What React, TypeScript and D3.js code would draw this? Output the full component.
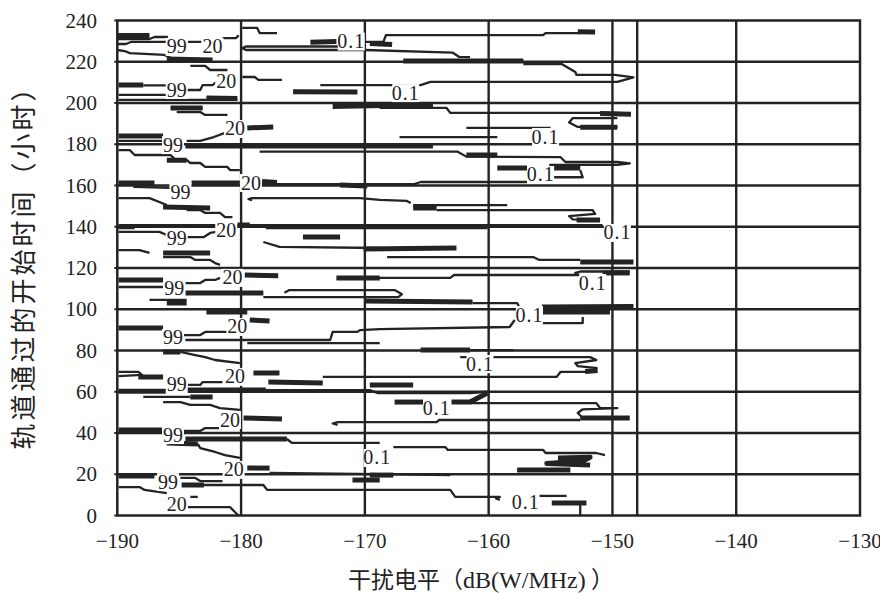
import React from "react";
import * as d3 from "d3";

// Axis ticks
const xTicks = [-190, -180, -170, -160, -150, -140, -130];
const yTicks = [0, 20, 40, 60, 80, 100, 120, 140, 160, 180, 200, 220, 240];
const extraGridX = [-148];

// Thin contour polylines [dB, hour]
const thinContours: number[][][] = [
  [[-190,231],[-187.4,231],[-187,232],[-185.9,232]],
  [[-190,228.6],[-189.3,228.6],[-188.9,229.6],[-186,229.6]],
  [[-184.3,229.6],[-183.2,229.6]],
  [[-181.5,231.5],[-180.4,231.5],[-180.2,232.9]],
  [[-179.9,236.4],[-178.7,236.4],[-178.5,233.9],[-177.1,233.9]],
  [[-172,227.4],[-179.6,227.4],[-179.9,226.6],[-179.6,225.7],[-170,225.7],[-162.9,224.4],[-162.4,222.4],[-161.5,222.2]],
  [[-170.1,229.6],[-168.5,229.6],[-168.3,232.9],[-155.6,232.9],[-155.4,233.9],[-152.6,233.9]],
  [[-190,225.7],[-189.4,225.2],[-189,224.2],[-186.2,223.3],[-185.7,221.9],[-183.2,221.2]],
  [[-184.1,218],[-182.9,218],[-182.5,216],[-181.1,216]],
  [[-157.2,218.9],[-154.1,218.9],[-153,215],[-152.9,213.6],[-149.8,213.6],[-148.3,212.4],[-149.6,210.2],[-164.7,210.2],[-165.5,208.7],[-173.6,208.7]],
  [[-187.9,208.5],[-185,208.5]],
  [[-184.4,206.3],[-183.3,206.3],[-183.1,208.7],[-182.3,208.7],[-182,210.2]],
  [[-189.9,203.9],[-185.5,203.9]],
  [[-189.9,201.5],[-180.3,201.5]],
  [[-179.9,212.6],[-178.9,212.6],[-178.6,211.2],[-176.7,211.2]],
  [[-185.2,195.6],[-183.3,195.6],[-182.9,194.2],[-181.1,194.2]],
  [[-168.8,197.6],[-163.4,197.6],[-163.1,195.2],[-149.6,195.2],[-148.6,194.4]],
  [[-149.6,192.7],[-153.2,192.7],[-153.5,190.5],[-152.8,188.4],[-149.6,188.4]],
  [[-167.2,183.5],[-159.3,183.5]],
  [[-161.8,187.9],[-155,187.9]],
  [[-189.9,181.6],[-186.3,181.6]],
  [[-184.4,181.6],[-183.3,181.6],[-182.2,183.5],[-181.3,185.5]],
  [[-178.5,176.4],[-162.5,176.4],[-161.8,174],[-154.2,173.8],[-153.8,171.4],[-149.6,171.4],[-148.6,170.7],[-149.6,170],[-155.1,170]],
  [[-189.9,177.2],[-189,177.2],[-188.6,174.8],[-185.7,174.8],[-185.3,172.4],[-184.4,172.4],[-184.1,170.9],[-183.3,170.9],[-182.9,169],[-181.1,169],[-180.9,167.5],[-180.1,167.5]],
  [[-152.6,167.5],[-152.4,164],[-155.1,164]],
  [[-178.5,160.7],[-166,160.7],[-165.5,161.7],[-156.9,161.7]],
  [[-188.7,159.3],[-185.7,158.8]],
  [[-179.1,152.9],[-179.4,153.4],[-179.1,153.9],[-170.4,153.9],[-168.8,153],[-166.6,152.5],[-166.3,151.5]],
  [[-189.9,153.9],[-187.4,153.9],[-186.6,152],[-186,150.5]],
  [[-184.4,148.1],[-183.3,148.1],[-182.9,146.7],[-181.7,146.7],[-181.3,144.7],[-180.7,144.7]],
  [[-166.1,150.5],[-158.5,150.5]],
  [[-164.2,148.1],[-151.6,148.1],[-151.4,146.2],[-153.5,145.2],[-153.2,143.6],[-151,143.3]],
  [[-189.9,140.8],[-150.8,140.8]],
  [[-189.9,139.4],[-188.6,139.4]],
  [[-178,139.4],[-160.1,139.4]],
  [[-189.9,137.5],[-186.6,137.5],[-186,136]],
  [[-184.4,135],[-183,135],[-182.5,137],[-182,137.5]],
  [[-178.2,132.6],[-176.9,130.2],[-168.8,129.7]],
  [[-168.2,125.3],[-156.4,125.3],[-155.9,123.9],[-152.6,123.9]],
  [[-189.9,128.7],[-188.2,128.7],[-187.4,127.3]],
  [[-186.3,125.3],[-184.1,125.3],[-183.7,123.9],[-182.5,123.9],[-182.1,122.4],[-181.7,121.5]],
  [[-169.6,115.2],[-163.1,115.2],[-162.8,116.6],[-152.6,116.6],[-153,117.6],[-152.6,118.3],[-148.6,118.3]],
  [[-184.5,112.7],[-183.3,112.7],[-182.9,114.2],[-182.1,114.2],[-181.7,115.2]],
  [[-189.9,110.8],[-186.3,110.8]],
  [[-178.2,105.9],[-167.3,105.9],[-167,107.3],[-167.6,109.3],[-176.1,109.3],[-176.5,108]],
  [[-161.3,103],[-157.7,103],[-157.4,99.6]],
  [[-155.7,93.3],[-152.4,93.3],[-152.4,96.3]],
  [[-187.4,104.5],[-184.4,104.5]],
  [[-184.7,87.5],[-183.3,87.5],[-182.9,89],[-181.1,89]],
  [[-184.5,85.1],[-172.8,85.1],[-172.6,89],[-170.6,89],[-170.4,89.9],[-168.8,90.4],[-158.3,91.4],[-157.9,94.8]],
  [[-179.5,83.6],[-168.8,83.6]],
  [[-184.9,79.3],[-183.7,77.8],[-182.9,76.8],[-182.1,75.4],[-180.1,73.9]],
  [[-161.5,80.2],[-158,80.2]],
  [[-162.3,76.8],[-151.8,76.8],[-151.3,75.4],[-153,73.9],[-152.8,72.4],[-151.2,71.5]],
  [[-173.4,67.2],[-154.5,67.2],[-154.2,69.6],[-151.8,69.6]],
  [[-189.9,69.6],[-188.3,69.6],[-188,68.2],[-189.9,67.6]],
  [[-184.3,63.3],[-183.3,63.3],[-183.1,64.7],[-181.5,64.7]],
  [[-178,60.8],[-169.6,60.8],[-169,59.4],[-161.5,59.4],[-160.1,60]],
  [[-187.9,57.5],[-184.1,57.5]],
  [[-186.3,55],[-184.9,55],[-184.1,53.6],[-182.5,53.6],[-181.7,52.1],[-180.1,51.2]],
  [[-161.5,54.5],[-151.3,54.5],[-151,52.1],[-149.6,52.1],[-152.4,51.5],[-152.8,49.7],[-152.4,47.3]],
  [[-172.2,43.9],[-172.6,44.6],[-172.2,45.3],[-164.2,45.3],[-164,46.3],[-152.6,46.3]],
  [[-184.7,41],[-183.3,41],[-182.9,42.4],[-181.7,42.4]],
  [[-176.3,37.1],[-175.9,35.2],[-168.8,35.2]],
  [[-183.5,34.7],[-183.3,32.7],[-182.1,30.8],[-181.3,29.3],[-180.1,27.9]],
  [[-167.7,33.2],[-163.5,33.2],[-163.3,31.8],[-155.6,31.8],[-155.4,30.3],[-151.3,30.3],[-150.6,29.3]],
  [[-177.7,20.6],[-168.8,20.1],[-163.1,19.6]],
  [[-184.9,18.2],[-183.7,18.2],[-183.3,16.7],[-181.5,16.7]],
  [[-183,14.8],[-178.2,14.8],[-177.9,12.4],[-163.1,12.4],[-162.7,9],[-159.1,9],[-159.4,8.3],[-159.1,7.5]],
  [[-189.9,13.8],[-188.2,13.8],[-187.8,12.4],[-186,10.9]],
  [[-184.1,9],[-183.5,9]],
  [[-184.3,4.1],[-180.9,4.1],[-180.5,1.7],[-180.2,0]],
  [[-155.9,9.5],[-153.7,9.5]],
  [[-152.6,6.1],[-152.6,0]],
];

// Densely packed contours that appear as thick black bands [dB, hour]
const thickBands: number[][][] = [
  [[-190,232.7],[-187.4,232.7]],
  [[-174.4,229.5],[-172.3,229.8]],
  [[-169.6,228.9],[-167.8,228.4]],
  [[-152.8,234.6],[-151.4,234.4]],
  [[-186,221.3],[-182.3,220.9]],
  [[-166.9,220.4],[-157.2,220.4]],
  [[-189.9,208.7],[-187.9,208.7]],
  [[-182.8,202.4],[-180.3,202.2]],
  [[-175.8,205.5],[-170.6,205.3]],
  [[-185.7,197.6],[-183.1,197.6]],
  [[-172.6,198.3],[-164.5,199.3]],
  [[-151,194.9],[-148.5,194.5]],
  [[-152.6,188.2],[-149.6,188.2]],
  [[-179.5,187.9],[-177.4,188.4]],
  [[-189.9,184],[-186.3,184]],
  [[-184.5,179.2],[-164.5,179.2]],
  [[-161.8,174.8],[-159.3,174.8]],
  [[-186,172.2],[-184.4,172.2]],
  [[-159.3,168.5],[-156.9,168.5]],
  [[-155.1,168.5],[-152.6,168.5]],
  [[-189.9,161.2],[-187,161.2]],
  [[-184,161.2],[-180.1,161.2]],
  [[-178.3,162],[-177.1,161.5]],
  [[-172,160.2],[-169.8,159.8]],
  [[-186.3,149.6],[-182.5,149.1]],
  [[-166.1,149.1],[-164.2,149.1]],
  [[-152.9,143.3],[-151,143.3]],
  [[-180.3,140.8],[-179.3,140.8]],
  [[-175,135],[-172,135]],
  [[-170.1,129.2],[-162.6,129.7]],
  [[-152.6,122.9],[-148.3,122.9]],
  [[-186.3,127.3],[-182.5,127.3]],
  [[-150.8,117.6],[-148.6,117.6]],
  [[-179.7,116.6],[-177,116.2]],
  [[-189.9,114.2],[-186.3,114.2]],
  [[-184.5,107.9],[-178.2,107.9]],
  [[-172.3,115.2],[-168.8,115.2]],
  [[-170,104],[-161.3,103.5]],
  [[-155.7,101.1],[-148.3,101.3]],
  [[-155.7,98.7],[-150.2,98.7]],
  [[-186,103],[-184.4,103]],
  [[-182.8,98.7],[-179.5,98.7]],
  [[-179.3,94.8],[-177.7,94.3]],
  [[-189.9,90.9],[-186.3,90.9]],
  [[-186.3,79.3],[-184.9,79.3]],
  [[-165.5,80.2],[-161.5,80.2]],
  [[-152.2,69.8],[-151.2,70.3]],
  [[-179,69.1],[-176.9,69.1]],
  [[-188.3,67.2],[-186.3,67.2]],
  [[-189.9,60.3],[-186,60.3]],
  [[-184.5,60.8],[-178,60.8]],
  [[-169.6,63.3],[-166.1,63.3]],
  [[-177.8,64.7],[-173.4,64.2]],
  [[-184.1,57.5],[-182.3,57.5]],
  [[-167.6,55],[-165.3,55]],
  [[-163,55],[-161.5,55],[-160.1,59.4]],
  [[-152.6,47.3],[-148.6,47.3]],
  [[-179.8,47.3],[-176.7,46.8]],
  [[-189.9,41.5],[-186.3,41.5]],
  [[-184.5,37.1],[-176.3,37.1]],
  [[-186,35.2],[-183.5,34.7]],
  [[-154.4,27.9],[-151.8,28.2],[-152.4,26.4],[-155.3,25.2],[-151.8,24.5]],
  [[-157.7,22.1],[-153.4,22.1]],
  [[-179.5,23],[-177.7,23]],
  [[-169.6,19.6],[-167.7,19.6]],
  [[-189.9,19.2],[-187,19.2]],
  [[-184.8,14.8],[-183,14.8]],
  [[-171,17.2],[-168.8,17.2]],
  [[-154.9,6.1],[-152.1,6.1]],
];

// Contour labels [dB, hour]
const labels99: number[][] = [
  [-185.2,227.2],[-185.2,206.3],[-185.5,179.6],[-184.9,156.8],[-185.2,134.5],
  [-185.4,110.3],[-185.5,86.1],[-185.2,63.3],[-185.5,39],[-185.9,16.2],
];
const labels20: number[][] = [
  [-182.3,227.2],[-181.2,210.2],[-180.5,187.4],[-179.2,161.2],[-181.2,138.4],[-180.7,115.2],
  [-180.3,91.4],[-180.5,67.2],[-180.9,46.3],[-180.6,22.1],[-185.2,5.1],
];
const labels01: number[][] = [
  [-171.1,229.8],[-166.7,204.8],[-155.4,183.5],[-155.8,165.1],[-149.6,137],[-151.6,112.7],
  [-156.7,97.2],[-160.7,73.4],[-164.2,52.1],[-169,27.9],[-157,6.5],
];

const X0 = 117.3, X1 = 860, Y0 = 20.5, Y1 = 515.5;
const INK = "#232323";
const SERIF = "Liberation Serif";
const CJK = "Noto Sans CJK SC";

export default function App() {
  const x = d3.scaleLinear().domain([-190, -130]).range([X0, X1]);
  const y = d3.scaleLinear().domain([0, 240]).range([Y1, Y0]);
  const line = d3.line<number[]>().x((d) => x(d[0])).y((d) => y(d[1]));

  const labelSet = [
    ...labels99.map((p) => ({ t: "99", p })),
    ...labels20.map((p) => ({ t: "20", p })),
    ...labels01.map((p) => ({ t: "0.1", p })),
  ];

  const gridX = [...xTicks.slice(1, -1), ...extraGridX];
  const gridY = yTicks.slice(1, -1);

  return (
    <svg
      width={880}
      height={593}
      fontFamily={SERIF}
      style={{ position: "absolute", left: 0, top: 0, background: "#fff" }}
    >
      <rect x={0} y={0} width={880} height={593} fill="#fff" />
      <defs>
        <clipPath id="plot">
          <rect x={X0} y={Y0} width={X1 - X0} height={Y1 - Y0} />
        </clipPath>
      </defs>
      <g clipPath="url(#plot)">
        {thinContours.map((d, i) => (
          <path key={"t" + i} d={line(d) || ""} fill="none" stroke={INK} strokeWidth={2.3} strokeLinejoin="round" />
        ))}
        {thickBands.map((d, i) => (
          <path key={"b" + i} d={line(d) || ""} fill="none" stroke={INK} strokeWidth={5} strokeLinejoin="round" />
        ))}
      </g>
      {gridX.map((v) => (
        <line key={"gx" + v} x1={x(v)} x2={x(v)} y1={Y0} y2={Y1} stroke={INK} strokeWidth={2.4} />
      ))}
      {gridY.map((v) => (
        <line key={"gy" + v} x1={X0} x2={X1} y1={y(v)} y2={y(v)} stroke={INK} strokeWidth={2.4} />
      ))}
      {labelSet.map((l, i) => {
        const w = l.t === "0.1" ? 27 : 22;
        return (
          <g key={"l" + i}>
            <rect x={x(l.p[0]) - w / 2} y={y(l.p[1]) - 9} width={w} height={18} fill="#fff" />
            <text
              x={x(l.p[0])}
              y={y(l.p[1]) + 6.5}
              textAnchor="middle"
              fontFamily={SERIF}
              fontSize={20}
              letterSpacing={l.t === "0.1" ? 1 : 0}
              fill={INK}
            >
              {l.t}
            </text>
          </g>
        );
      })}
      <rect x={X0} y={Y0} width={X1 - X0} height={Y1 - Y0} fill="none" stroke={INK} strokeWidth={2.5} />
      {yTicks.map((v) => (
        <g key={"yt" + v}>
          <line x1={X0 - 3} x2={X0} y1={y(v)} y2={y(v)} stroke={INK} strokeWidth={2} />
          <text x={97} y={y(v) + 7} textAnchor="end" fontFamily={SERIF} fontSize={21} fill={INK}>
            {v}
          </text>
        </g>
      ))}
      {xTicks.map((v) => (
        <text key={"xt" + v} x={x(v)} y={548} textAnchor="middle" fontFamily={SERIF} fontSize={21} fill={INK}>
          {v < 0 ? "\u2212" + Math.abs(v) : String(v)}
        </text>
      ))}
      <text x={481} y={588} textAnchor="middle" fill={INK} fontFamily={CJK} fontSize={23}>
        <tspan fontFamily={CJK} fontSize={23}>干扰电平（</tspan>
        <tspan fontFamily={SERIF} fontSize={24}>dB(W/MHz)</tspan>
        <tspan fontFamily={CJK} fontSize={23}> ）</tspan>
      </text>
      <text
        transform={`translate(33, 261) rotate(-90)`}
        textAnchor="middle"
        fontFamily={CJK}
        fontSize={26}
        letterSpacing={3}
        fill={INK}
      >
        轨道通过的开始时间（小时）
      </text>
    </svg>
  );
}
